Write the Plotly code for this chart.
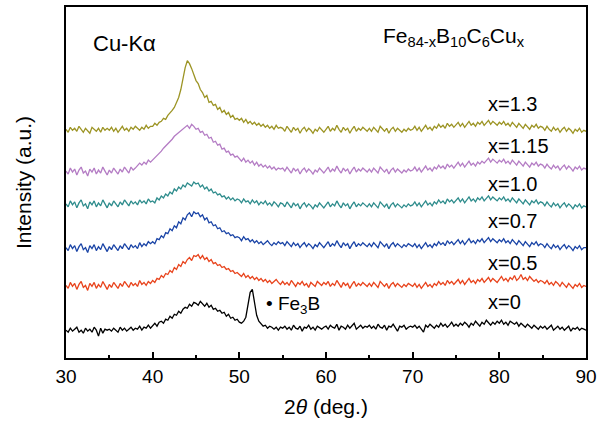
import numpy as np
import plotly.graph_objects as go

# Scan grid: 2theta from 30 to 90 deg, step 0.25 deg
two_theta = np.arange(30, 90.001, 0.25)

# Intensities (a.u., stacked)
int_x0 = [
    28,26,30,27,29,31,26,28,25,30,27,29,26,31,28,22,30,25,29,28,
    29,27,30,28,26,31,28,30,27,29,31,28,30,29,32,28,31,30,33,30,
    33,35,32,36,37,35,39,38,42,40,44,43,47,45,49,51,50,54,52,56,
    55,53,57,54,52,55,51,53,49,50,47,48,45,46,42,44,40,41,38,39,
    36,35,37,41,52,66,69,55,43,37,34,32,33,30,32,31,29,31,28,31,
    30,32,29,31,28,33,30,29,32,27,31,30,33,29,31,28,32,30,29,31,
    32,29,33,31,30,34,28,32,31,29,33,30,32,35,29,31,33,30,32,31,
    33,30,32,29,34,31,30,33,28,32,31,34,30,27,32,31,33,29,31,32,
    31,33,30,32,29,26,33,31,34,32,30,33,31,35,32,34,31,33,36,32,
    34,32,35,33,36,34,31,35,33,37,35,32,36,34,38,35,33,36,34,37,
    35,38,34,36,33,37,35,34,36,32,35,33,31,34,32,30,33,31,29,32,
    30,32,29,31,33,28,30,32,29,31,28,30,32,27,30,29,31,28,30,29,
    28]
int_x05 = [
    73,70,76,72,75,69,74,77,71,73,68,75,72,76,70,74,71,77,73,69,
    74,71,76,73,70,75,72,77,74,71,76,73,75,72,78,74,76,73,77,75,
    78,76,80,79,83,81,85,84,88,86,91,89,94,92,97,95,99,101,98,103,
    102,104,100,103,99,101,97,99,95,96,93,94,91,92,89,90,87,88,85,86,
    84,82,85,81,83,80,82,79,81,78,80,77,79,76,78,75,77,79,76,74,
    77,74,76,73,78,75,72,76,74,77,73,75,71,76,74,72,77,75,73,76,
    74,77,72,75,73,78,74,71,76,73,75,70,74,77,72,75,73,76,74,72,
    75,72,76,73,71,77,74,72,75,70,74,76,72,75,73,71,74,72,75,73,
    72,75,71,74,70,73,76,72,74,71,75,73,77,74,76,73,78,75,77,74,
    76,79,75,78,74,77,80,76,78,75,79,77,80,76,79,81,77,80,78,76,
    79,82,78,80,77,81,79,83,78,80,84,79,81,78,82,80,77,79,76,78,
    77,75,78,74,76,73,77,75,72,76,74,71,75,73,70,74,72,75,71,73,
    72]
int_x07 = [
    111,108,114,110,113,107,112,115,109,111,106,113,110,114,108,112,109,115,111,107,
    112,109,114,111,108,113,110,115,112,109,114,111,113,110,116,112,115,113,117,115,
    117,115,120,119,123,121,126,125,130,128,133,131,137,135,141,139,144,146,142,147,
    145,146,142,144,139,141,136,137,133,134,130,131,127,128,125,126,123,124,121,122,
    121,118,122,119,120,117,119,116,118,115,117,114,116,118,115,113,116,114,117,115,
    116,113,117,114,112,116,113,115,111,114,116,112,115,113,110,114,112,116,113,111,
    114,117,112,115,113,118,114,111,116,113,115,110,114,117,112,115,113,116,114,112,
    115,112,116,113,111,117,114,112,115,110,114,116,112,115,113,111,114,112,115,113,
    112,115,111,114,110,113,116,112,114,111,115,113,117,114,116,113,118,115,117,114,
    116,119,115,118,114,117,120,116,118,115,119,117,120,116,119,121,117,120,118,116,
    119,117,120,116,118,115,119,117,114,118,116,113,117,115,112,116,114,117,113,115,
    114,111,115,112,110,114,111,113,109,112,114,110,113,111,108,112,110,113,109,111,
    111]
int_x10 = [
    155,152,158,154,157,151,156,159,153,155,150,157,154,158,152,156,153,159,155,151,
    156,153,158,155,152,157,154,159,156,153,158,155,157,154,159,156,158,155,160,157,
    158,156,161,159,163,161,165,163,167,165,170,168,172,170,174,172,176,174,173,177,
    175,176,172,174,170,172,168,170,166,167,164,165,162,163,160,162,159,161,158,160,
    159,156,160,157,158,155,159,156,158,154,157,155,158,154,156,153,157,155,152,156,
    155,152,157,154,151,156,153,155,150,154,156,152,155,153,150,154,152,156,153,151,
    154,157,152,155,153,158,154,151,156,153,155,150,154,157,152,155,153,156,154,152,
    155,152,156,153,151,157,154,152,155,150,154,156,152,155,153,151,154,152,155,153,
    154,157,153,156,152,155,158,154,156,153,157,155,159,156,158,155,160,157,159,156,
    158,161,157,160,156,159,162,158,160,157,161,159,162,158,161,163,159,162,160,158,
    161,159,162,158,160,157,161,159,156,160,158,155,159,157,154,158,156,159,155,157,
    156,153,157,154,152,156,153,155,151,154,156,152,155,153,150,154,152,155,151,153,
    152]
int_x115 = [
    188,185,191,187,190,184,189,192,186,188,183,190,187,191,185,189,186,192,188,184,
    189,186,191,188,185,190,187,192,189,186,192,189,191,193,196,194,197,195,199,197,
    199,202,204,206,208,211,213,215,218,220,223,225,227,229,230,232,234,231,235,233,
    230,231,227,228,224,225,221,222,217,218,214,215,210,211,207,208,204,205,202,203,
    200,198,201,197,199,196,198,194,197,193,195,192,194,191,193,190,192,189,191,190,
    191,188,192,189,186,191,188,190,185,189,191,187,190,188,185,189,187,191,188,186,
    189,192,187,190,188,193,189,186,191,188,190,185,189,192,187,190,188,191,189,187,
    190,187,191,188,186,192,189,187,190,185,189,191,187,190,188,186,189,187,190,188,
    189,192,188,191,187,190,193,189,191,188,192,190,194,191,193,190,195,192,194,191,
    194,197,193,196,192,195,198,194,196,193,197,195,198,196,199,201,197,200,198,196,
    199,197,200,196,198,195,199,197,194,198,196,193,197,195,192,196,194,197,193,195,
    194,191,195,192,190,194,191,193,189,192,194,190,193,191,188,192,190,193,189,191,
    190]
int_x13 = [
    230,227,232,229,231,228,233,230,227,231,229,226,232,230,228,231,227,232,229,231,
    229,232,228,231,227,230,233,229,231,228,232,230,233,231,229,232,230,234,231,233,
    233,236,234,237,238,241,240,244,246,249,252,257,262,270,283,292,299,296,291,285,
    279,276,270,267,262,264,257,258,254,255,250,252,247,249,245,247,242,244,240,241,
    239,241,237,240,236,238,235,237,234,236,233,235,232,234,231,233,230,234,231,232,
    231,228,233,230,227,232,229,231,226,230,232,228,231,229,226,230,228,232,229,227,
    230,233,228,231,229,234,230,227,232,229,231,226,230,233,228,231,229,232,230,228,
    231,228,232,229,227,233,230,228,231,226,230,232,228,231,229,227,230,228,231,229,
    230,233,229,232,228,231,234,230,232,229,233,231,235,232,234,231,236,233,235,232,
    234,237,233,236,232,235,238,234,236,233,237,235,238,234,237,239,235,238,236,234,
    237,235,238,234,236,233,237,235,232,236,234,231,235,233,230,234,232,235,231,233,
    232,229,233,230,228,232,229,231,227,230,232,228,231,229,226,230,228,231,227,229,
    228]

series_labels = ["x=0", "x=0.5", "x=0.7", "x=1.0", "x=1.15", "x=1.3"]
series_values = [int_x0, int_x05, int_x07, int_x10, int_x115, int_x13]
series_colors = ["#000000", "#e8431c", "#1a44a6", "#2e8c8c", "#b47cc4", "#9c9424"]
label_y = [56, 96, 138, 175, 213, 255]

FONT = "Liberation Sans, Arial, sans-serif"

fig = go.Figure()
for name, vals, col in zip(series_labels, series_values, series_colors):
    fig.add_trace(go.Scatter(x=two_theta, y=vals, mode="lines", name=name,
                             line=dict(color=col, width=1.3), showlegend=False))

for name, ly in zip(series_labels, label_y):
    fig.add_annotation(x=78.5, y=ly, text=name, showarrow=False, xanchor="left",
                       yanchor="middle", font=dict(family=FONT, size=20, color="black"))

fig.add_annotation(x=32.9, y=316, text="Cu-Kα", showarrow=False, xanchor="left",
                   yanchor="middle", font=dict(family=FONT, size=22, color="black"))
fig.add_annotation(x=66.3, y=323, text="Fe<sub>84-x</sub>B<sub>10</sub>C<sub>6</sub>Cu<sub>x</sub>",
                   showarrow=False, xanchor="left", yanchor="middle",
                   font=dict(family=FONT, size=21, color="black"))
fig.add_annotation(x=52.8, y=53, text="• Fe<sub>3</sub>B", showarrow=False, xanchor="left",
                   yanchor="middle", font=dict(family=FONT, size=19, color="black"))

axis_common = dict(showline=True, linecolor="black", linewidth=1.5, mirror=True,
                   showgrid=False, zeroline=False)
fig.update_xaxes(range=[30, 90], dtick=10, tick0=30, ticks="inside", ticklen=6,
                 tickwidth=1.5, tickcolor="black",
                 minor=dict(dtick=5, ticks="inside", ticklen=3, tickcolor="black", tickwidth=1.5),
                 tickfont=dict(family=FONT, size=19, color="black"),
                 title=dict(text="2<i>θ</i> (deg.)", font=dict(family=FONT, size=21, color="black"),
                            standoff=14),
                 **axis_common)
fig.update_yaxes(range=[0, 353], showticklabels=False, ticks="",
                 title=dict(text="Intensity (a.u.)", font=dict(family=FONT, size=21, color="black"),
                            standoff=27),
                 **axis_common)
fig.update_layout(width=607, height=423, margin=dict(l=66, r=21, t=5, b=65),
                  paper_bgcolor="white", plot_bgcolor="white")
fig.write_html("out.html")
